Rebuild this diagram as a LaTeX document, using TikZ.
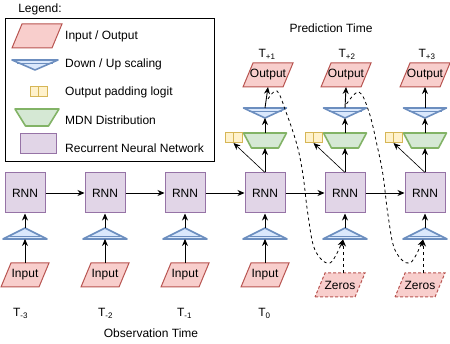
\documentclass[tikz,border=0pt]{standalone}
\usepackage{fontspec}
\setmainfont{Liberation Sans}
\usetikzlibrary{arrows.meta}
\definecolor{pinkF}{HTML}{F8CECC}\definecolor{pinkD}{HTML}{B85450}
\definecolor{blueF}{HTML}{DAE8FC}\definecolor{blueD}{HTML}{6C8EBF}
\definecolor{yelF}{HTML}{FFF2CC}\definecolor{yelD}{HTML}{D6B656}
\definecolor{grnF}{HTML}{D5E8D4}\definecolor{grnD}{HTML}{82B366}
\definecolor{purF}{HTML}{E1D5E7}\definecolor{purD}{HTML}{9673A6}
% parallelogram: name, cx, cy, half width, text, style
\newcommand{\IOshape}[6]{%
  \path[#6] (#2-#4,#3+12) -- (#2+#4-10,#3+12) -- (#2+#4,#3-12) -- (#2-#4+10,#3-12) -- cycle;
  \node[holder, minimum width=30pt, minimum height=24pt] (#1) at (#2,#3) {#5};}
% up triangle: name, cx, cy
\newcommand{\UpTri}[3]{%
  \path[tristyle] (#2-22,#3+5.5) -- (#2+22,#3+5.5) -- (#2,#3-5.5) -- cycle;
  \draw[blueD, line width=0.8pt] (#2-15,#3+2.5) -- (#2+15,#3+2.5);
  \node[holder, minimum width=44pt, minimum height=11pt] (#1) at (#2,#3) {};}
% down triangle: name, cx, cy, half width
\newcommand{\DnTri}[4]{%
  \path[tristyle] (#2-#4,#3-5) -- (#2+#4,#3-5) -- (#2,#3+5) -- cycle;
  \draw[blueD, line width=0.8pt] (#2-#4+5,#3-2) -- (#2+#4-5,#3-2);
  \node[holder, minimum width=2*#4, minimum height=10pt] (#1) at (#2,#3) {};}
% MDN trapezoid: name, cx, cy, top half width, bottom half width, half height
\newcommand{\MDNshape}[6]{%
  \path[mdnstyle] (#2-#4,#3-#6) -- (#2+#4,#3-#6) -- (#2+#5,#3+#6) -- (#2-#5,#3+#6) -- cycle;
  \node[holder, minimum width=2*#5, minimum height=2*#6] (#1) at (#2,#3) {};}
% logit: name, cx, cy
\newcommand{\Logit}[3]{%
  \node[holder, minimum width=17pt, minimum height=10pt, draw=yelD, fill=yelF, line width=1pt] (#1) at (#2,#3) {};
  \draw[yelD, line width=1pt] (#1.north) -- (#1.south);}
\begin{document}
\begin{tikzpicture}[x=1pt,y=-1pt,
  font=\fontsize{12}{14}\selectfont,
  holder/.style={inner sep=0pt, outer sep=0pt},
  iostyle/.style={draw=pinkD, fill=pinkF, line width=1pt},
  iodash/.style={draw=pinkD, fill=pinkF, line width=1pt, dash pattern=on 3pt off 2pt},
  tristyle/.style={draw=blueD, fill=blueF, line width=1.6pt, line join=round},
  mdnstyle/.style={draw=grnD, fill=grnF, line width=1.6pt, line join=round},
  rnnbox/.style={draw=purD, fill=purF, line width=1pt, minimum width=40pt, minimum height=40pt, inner sep=0pt},
  arr/.style={-{Stealth[length=7pt,width=6pt]}, line width=0.9pt},
  darr/.style={-{Stealth[length=7pt,width=6pt]}, line width=0.8pt, dash pattern=on 3pt off 3pt},
  lbl/.style={inner sep=0pt, anchor=base}]
\useasboundingbox (0,0) rectangle (450,344);

% ---------- Legend ----------
\node[inner sep=0pt] (legtitle) at (40,9) {Legend:};
\draw[line width=1pt] (5,19) rectangle (214,162);
\IOshape{legio}{37}{36}{25}{}{iostyle}
\DnTri{legdn}{35}{65}{23}
\Logit{leglg}{38.5}{92}
\MDNshape{legmdn}{37}{117.5}{22}{11.5}{8.5}
\node[rnnbox, minimum width=36pt, minimum height=20pt] (legrnn) at (38,144) {};
\node[anchor=west, inner sep=0pt] (t1) at (65,36) {Input / Output};
\node[anchor=west, inner sep=0pt] (t2) at (65,64) {Down / Up scaling};
\node[anchor=west, inner sep=0pt] (t3) at (65,92) {Output padding logit};
\node[anchor=west, inner sep=0pt] (t4) at (65,120) {MDN Distribution};
\node[anchor=west, inner sep=0pt] (t5) at (65,148) {Recurrent Neural Network};

% ---------- RNN chain ----------
\node[rnnbox] (r1) at (25,193) {RNN};
\node[rnnbox] (r2) at (105,193) {RNN};
\node[rnnbox] (r3) at (185,193) {RNN};
\node[rnnbox] (r4) at (265,193) {RNN};
\node[rnnbox] (r5) at (345,193) {RNN};
\node[rnnbox] (r6) at (425,193) {RNN};
\draw[arr] (r1) -- (r2);
\draw[arr] (r2) -- (r3);
\draw[arr] (r3) -- (r4);
\draw[arr] (r4) -- (r5);
\draw[arr] (r5) -- (r6);

% up-scaling triangles
\UpTri{u1}{25}{233.5}
\UpTri{u2}{105}{233.5}
\UpTri{u3}{185}{233.5}
\UpTri{u4}{265}{233.5}
\UpTri{u5}{345}{233.5}
\UpTri{u6}{425}{233.5}
\foreach \i in {1,...,6} {\draw[arr] (u\i.north) -- (r\i.south);}

% inputs
\IOshape{i1}{25}{275}{24}{Input}{iostyle}
\IOshape{i2}{105}{275}{24}{Input}{iostyle}
\IOshape{i3}{185}{275}{24}{Input}{iostyle}
\IOshape{i4}{265}{275}{24}{Input}{iostyle}
\foreach \i in {1,...,4} {\draw[arr] (i\i.north) -- (u\i.south);}

% zeros
\IOshape{z5}{340}{285}{25}{Zeros}{iodash}
\IOshape{z6}{420}{285}{25}{Zeros}{iodash}
\draw[darr] (343,273) -- (343,239.5);
\draw[darr] (423,273) -- (423,239.5);

% prediction heads
\MDNshape{m4}{265}{140.5}{21.5}{13.5}{7.5}
\MDNshape{m5}{345}{140.5}{21.5}{13.5}{7.5}
\MDNshape{m6}{425}{140.5}{21.5}{13.5}{7.5}
\DnTri{d4}{265}{113}{21.5}
\DnTri{d5}{345}{113}{21.5}
\DnTri{d6}{425}{113}{21.5}
\IOshape{o4}{268}{75}{25}{Output}{iostyle}
\IOshape{o5}{346}{75}{25}{Output}{iostyle}
\IOshape{o6}{425}{75}{25}{Output}{iostyle}
\Logit{l4}{233.5}{138}
\Logit{l5}{313.5}{138}
\Logit{l6}{393.5}{138}
\foreach \i in {4,5,6} {
  \draw[arr] (r\i.north) -- (m\i.south);
  \draw[arr] (m\i.north) -- (d\i.south);
  \draw[arr] (d\i.north) -- (o\i.south);
  \draw[arr, line width=0.6pt] (r\i.north) -- (l\i.south);
}

% autoregressive feedback curves
\coordinate (s4) at (268,99);
\coordinate (s5) at (346.5,104);
\draw[darr] plot[smooth, tension=0.6] coordinates {(s4) (277,91) (286,112) (297,145) (303,175) (308,215) (315,250) (330,263) (343,239.5)};
\draw[darr] plot[smooth, tension=0.6] coordinates {(s5) (359,92) (369,112) (377,145) (383,175) (388,215) (395,250) (410,263) (423,239.5)};

% time labels
\node[lbl] (tm3) at (20.5,317) {T\textsubscript{-3}};
\node[lbl] (tm2) at (105.5,317) {T\textsubscript{-2}};
\node[lbl] (tm1) at (184.5,317) {T\textsubscript{-1}};
\node[lbl] (t0) at (264.5,317) {T\textsubscript{0}};
\node[lbl] (tp1) at (267,58) {T\textsubscript{+1}};
\node[lbl] (tp2) at (347,58) {T\textsubscript{+2}};
\node[lbl] (tp3) at (427,58) {T\textsubscript{+3}};
\node[inner sep=0pt] (obs) at (151,333) {Observation Time};
\node[inner sep=0pt] (pred) at (331,28) {Prediction Time};
\end{tikzpicture}
\end{document}
